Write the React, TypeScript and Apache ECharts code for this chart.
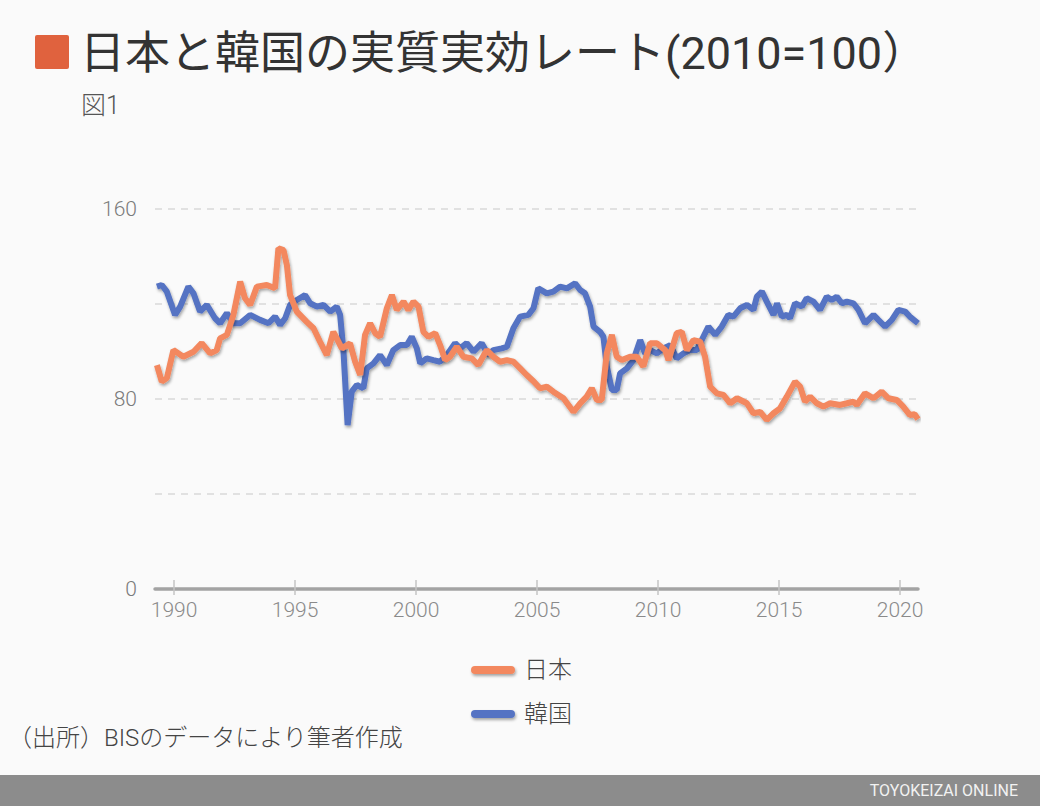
import React, { useEffect, useRef } from "react";
import * as echarts from "echarts";

const TITLE = "日本と韓国の実質実効レート(2010=100）";
const SUBTITLE = "図1";
const SOURCE = "（出所）BISのデータにより筆者作成";
const FOOTER = "TOYOKEIZAI ONLINE";

const yearTicks = [1990, 1995, 2000, 2005, 2010, 2015, 2020];

const jpT = [1989.29, 1989.49, 1989.7, 1989.97, 1990.38, 1990.8, 1991.14, 1991.49, 1991.76, 1991.9, 1992.18, 1992.45, 1992.73, 1992.93, 1993.14, 1993.42, 1993.83, 1994.17, 1994.31, 1994.52, 1994.66, 1994.79, 1995.07, 1995.48, 1995.76, 1996.03, 1996.31, 1996.58, 1996.93, 1997.27, 1997.48, 1997.69, 1997.89, 1998.1, 1998.31, 1998.51, 1998.79, 1999.0, 1999.2, 1999.48, 1999.68, 1999.89, 2000.1, 2000.3, 2000.51, 2000.79, 2000.99, 2001.2, 2001.4, 2001.68, 2001.95, 2002.3, 2002.57, 2002.92, 2003.19, 2003.47, 2003.75, 2004.02, 2004.3, 2004.57, 2004.85, 2005.12, 2005.4, 2005.67, 2006.09, 2006.5, 2006.78, 2007.05, 2007.26, 2007.47, 2007.67, 2007.88, 2008.09, 2008.29, 2008.5, 2008.84, 2009.12, 2009.39, 2009.67, 2009.95, 2010.29, 2010.43, 2010.77, 2010.98, 2011.19, 2011.46, 2011.74, 2011.94, 2012.15, 2012.43, 2012.7, 2012.98, 2013.26, 2013.67, 2013.94, 2014.22, 2014.49, 2014.77, 2015.04, 2015.32, 2015.66, 2015.87, 2016.07, 2016.28, 2016.56, 2016.83, 2017.11, 2017.52, 2017.8, 2018.07, 2018.21, 2018.55, 2018.9, 2019.24, 2019.52, 2019.86, 2020.13, 2020.4, 2020.6, 2020.74];
const jpV = [94.3, 87.3, 88.8, 100.6, 97.8, 99.9, 103.5, 99.2, 100.6, 105.5, 107, 115.4, 129.4, 122.4, 119.6, 127.3, 128, 126.6, 143.5, 142.7, 136.4, 123.8, 116.8, 112.5, 109.8, 104.1, 98.5, 108.3, 101.3, 103.4, 95.7, 90.1, 107, 111.9, 107.7, 106.2, 118.2, 123.8, 117.5, 121, 117.5, 121, 118.9, 108.3, 106.2, 107.7, 102.7, 96.4, 97.8, 102, 97.8, 97.1, 94.3, 100.6, 97.8, 95.7, 96.4, 95.7, 92.9, 90.1, 87.5, 84.5, 85.2, 83.1, 80.3, 74.6, 78.2, 81, 84.5, 79.6, 79.6, 99.2, 107, 97.8, 96.4, 97.8, 97.8, 93.7, 103.5, 103.5, 100.6, 96.4, 107.7, 108.3, 100.6, 104.8, 104.1, 97.8, 85.2, 82.4, 81.7, 78.2, 80.3, 78.2, 74, 74.6, 71.2, 74, 76.1, 81, 87.3, 85.2, 78.9, 81, 78.2, 76.8, 78.2, 77.5, 78.2, 78.9, 77.5, 82.4, 80.3, 83.1, 80.3, 79.6, 76.8, 73.3, 73.6, 71.5];

const krT = [1989.29, 1989.49, 1989.7, 1990.04, 1990.25, 1990.59, 1990.8, 1991.07, 1991.35, 1991.69, 1991.9, 1992.18, 1992.45, 1992.73, 1993.14, 1993.55, 1993.9, 1994.17, 1994.38, 1994.59, 1994.79, 1995.07, 1995.41, 1995.62, 1995.9, 1996.17, 1996.45, 1996.72, 1996.86, 1997.0, 1997.17, 1997.34, 1997.55, 1997.82, 1997.96, 1998.24, 1998.51, 1998.79, 1999.06, 1999.34, 1999.62, 1999.82, 2000.03, 2000.17, 2000.44, 2000.71, 2000.99, 2001.27, 2001.61, 2001.82, 2002.09, 2002.37, 2002.71, 2002.99, 2003.19, 2003.54, 2003.75, 2004.02, 2004.3, 2004.64, 2004.85, 2005.05, 2005.4, 2005.67, 2005.95, 2006.23, 2006.57, 2006.78, 2006.98, 2007.19, 2007.33, 2007.6, 2007.74, 2007.88, 2008.09, 2008.29, 2008.43, 2008.71, 2008.98, 2009.26, 2009.46, 2009.67, 2009.95, 2010.22, 2010.5, 2010.77, 2011.05, 2011.32, 2011.6, 2011.87, 2012.08, 2012.36, 2012.63, 2012.9, 2013.11, 2013.39, 2013.67, 2013.94, 2014.08, 2014.29, 2014.49, 2014.77, 2014.91, 2015.11, 2015.32, 2015.45, 2015.66, 2015.94, 2016.14, 2016.42, 2016.69, 2016.97, 2017.17, 2017.38, 2017.59, 2017.8, 2018.07, 2018.28, 2018.55, 2018.9, 2019.1, 2019.38, 2019.66, 2019.93, 2020.21, 2020.4, 2020.74];
const krV = [127.3, 128, 125.2, 115.4, 118.9, 127.3, 124.5, 116.8, 119.6, 114, 111.9, 116.1, 111.9, 111.9, 115.4, 113.3, 111.9, 114.7, 111.2, 114, 119.6, 121.7, 123.8, 120.3, 118.9, 119.6, 116.8, 118.9, 115.4, 99.9, 69, 83.1, 85.9, 84.5, 92.9, 95, 98.5, 94.3, 100.6, 102.7, 102.7, 106.2, 101.3, 95, 97.1, 96.4, 95.7, 98.5, 103.5, 101.3, 103.5, 99.9, 103.5, 98.5, 100.6, 101.3, 102, 109.8, 114.7, 115.4, 118.2, 126.6, 124.5, 125.2, 127.3, 126.6, 128.7, 125.9, 124.5, 118.9, 110.5, 108.3, 106.2, 93.7, 83.8, 83.8, 90.8, 92.9, 96.4, 104.8, 99.2, 100.6, 99.2, 101.3, 102.7, 97.1, 99.2, 100.6, 100.6, 106.2, 110.5, 107, 110.5, 115.4, 114.7, 118.2, 119.6, 117.5, 123.1, 125.2, 121, 115.4, 120.3, 114.7, 115.4, 114, 120.3, 118.9, 122.4, 121, 117.5, 123.1, 121.7, 123.1, 120.3, 121, 120.3, 117.5, 111.9, 115.4, 113.3, 110.5, 113.3, 117.5, 116.8, 114.7, 111.9];

const JP_COLOR = "#F3885F";
const KR_COLOR = "#5573C3";
const FONT = "Roboto, 'Noto Sans CJK JP', sans-serif";

export default function App() {
  const ref = useRef<HTMLDivElement>(null);
  useEffect(() => {
    if (!ref.current) return;
    const chart = echarts.init(ref.current, null, { renderer: "svg" });
    const jpData = jpT.map((t, i) => [t, jpV[i]]);
    const krData = krT.map((t, i) => [t, krV[i]]);
    const shadow = {
      shadowColor: "rgba(0,0,0,0.35)",
      shadowBlur: 3,
      shadowOffsetX: 1,
      shadowOffsetY: 2,
    };
    const pill = "path://M4,0 H40 A4,4 0 0 1 40,8 H4 A4,4 0 0 1 4,0 Z";
    chart.setOption({
      animation: false,
      backgroundColor: "#fafafa",
      textStyle: { fontFamily: FONT },
      grid: { left: 155, right: 122, top: 209, bottom: 217, containLabel: false },
      xAxis: [
        {
          type: "value",
          min: 1989.21,
          max: 2020.74,
          axisLine: { show: true, lineStyle: { color: "#a3a3a3", width: 3.5 } },
          axisTick: {
            show: true,
            customValues: yearTicks,
            length: 6,
            lineStyle: { color: "#c4c4c4", width: 1.5 },
          },
          axisLabel: {
            customValues: yearTicks,
            color: "#8a8a8a",
            fontSize: 21,
            fontWeight: 300,
            fontFamily: FONT,
            margin: 10,
            formatter: (v: number) => String(Math.round(v)),
          },
          splitLine: { show: false },
        },
        {
          type: "value",
          position: "bottom",
          min: 1989.21,
          max: 2020.74,
          axisLine: { show: false },
          axisTick: {
            show: true,
            inside: true,
            customValues: yearTicks,
            length: 9,
            lineStyle: { color: "#c4c4c4", width: 1.5 },
          },
          axisLabel: { show: false },
          splitLine: { show: false },
        },
      ],
      yAxis: {
        type: "value",
        min: 0,
        max: 160,
        interval: 40,
        axisLine: { show: false },
        axisTick: { show: false },
        axisLabel: {
          color: "#7a7a7a",
          fontSize: 21,
          fontWeight: 300,
          fontFamily: FONT,
          margin: 18,
          formatter: (v: number) => (v % 80 === 0 ? String(v) : ""),
        },
        splitLine: {
          show: true,
          lineStyle: { color: "#d9d9d9", width: 1.5, type: [7, 6] },
        },
      },
      legend: {
        data: ["日本", "韓国"],
        orient: "vertical",
        left: 466,
        top: 653,
        itemWidth: 44,
        itemHeight: 9,
        itemGap: 20,
        icon: pill,
        textStyle: { color: "#444", fontSize: 24, fontWeight: 300, fontFamily: FONT, padding: [0, 0, 0, 4] },
        itemStyle: { ...shadow },
      },
      series: [
        {
          name: "韓国",
          type: "line",
          xAxisIndex: 0,
          data: krData,
          showSymbol: false,
          symbol: "none",
          color: KR_COLOR,
          lineStyle: { width: 6, color: KR_COLOR, ...shadow },
          z: 2,
        },
        {
          name: "日本",
          type: "line",
          xAxisIndex: 0,
          data: jpData,
          showSymbol: false,
          symbol: "none",
          color: JP_COLOR,
          lineStyle: { width: 6, color: JP_COLOR, ...shadow },
          z: 3,
        },
      ],
      graphic: [
        {
          type: "rect",
          shape: { x: 35, y: 35, width: 34, height: 34, r: 2 },
          style: { fill: "#E0623E" },
        },
        {
          type: "text",
          x: 80,
          y: 53,
          style: {
            text: TITLE,
            fill: "#333",
            font: `45px ${FONT}`,
            textVerticalAlign: "middle",
          },
        },
        {
          type: "text",
          x: 81,
          y: 105,
          style: {
            text: SUBTITLE,
            fill: "#555",
            font: `300 25px ${FONT}`,
            textVerticalAlign: "middle",
          },
        },
        {
          type: "text",
          x: 8,
          y: 738,
          style: {
            text: SOURCE,
            fill: "#444",
            font: `300 24px ${FONT}`,
            textVerticalAlign: "middle",
          },
        },
        {
          type: "rect",
          shape: { x: 0, y: 775, width: 1040, height: 31 },
          style: { fill: "#8c8c8c" },
        },
        {
          type: "text",
          x: 1018,
          y: 790,
          style: {
            text: FOOTER,
            fill: "#f2f2f2",
            font: `16px ${FONT}`,
            textAlign: "right",
            textVerticalAlign: "middle",
          },
        },
      ],
    });
    return () => chart.dispose();
  }, []);
  return (
    <div
      ref={ref}
      style={{ position: "fixed", left: 0, top: 0, width: 1040, height: 806 }}
    />
  );
}
